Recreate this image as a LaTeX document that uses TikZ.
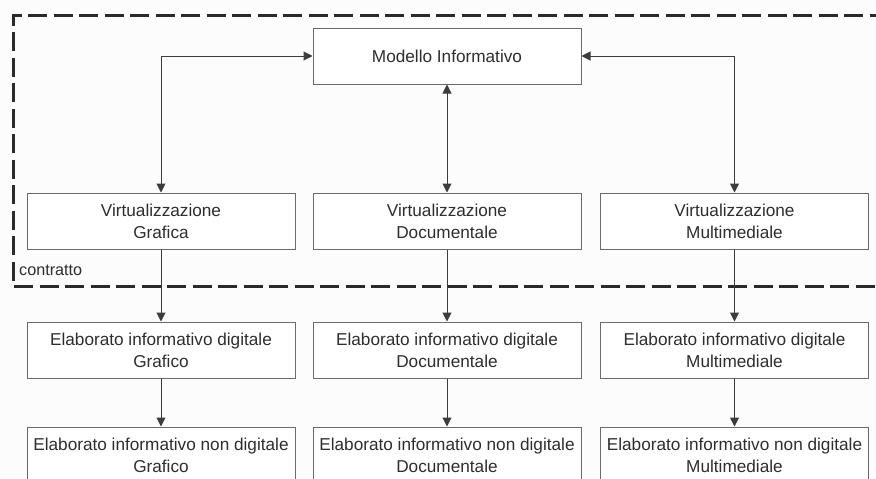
\documentclass[tikz,border=0pt]{standalone}
\usepackage{fontspec}
\setmainfont{Liberation Sans}
\usetikzlibrary{arrows.meta}
\definecolor{boxline}{HTML}{6A6A6A}
\definecolor{arrline}{HTML}{3C3C3C}
\definecolor{txt}{HTML}{2E2E2E}
\definecolor{frame}{HTML}{2A2A2A}
\tikzset{
  blockbox/.style={draw=boxline, line width=1pt, fill=white, text=txt,
    minimum width=268pt, minimum height=56pt, inner sep=0pt, align=center,
    font=\fontsize{17.2}{22}\selectfont},
  link/.style={draw=arrline, line width=1pt,
    -{Triangle[length=9pt,width=9pt]}},
  duallink/.style={draw=arrline, line width=1pt,
    {Triangle[length=9pt,width=9pt]}-{Triangle[length=9pt,width=9pt]}},
  contractframe/.style={draw=frame, line width=3pt, dash pattern=on 19pt off 6.5pt}
}
\begin{document}
\begin{tikzpicture}[x=1pt, y=-1pt]
  \useasboundingbox (0,0) rectangle (876,479);
  \fill[white!99!black] (0,0) rectangle (876,479);
  \clip (0,0) rectangle (876,479);

  % contract boundary
  \draw[contractframe] (900,286) -- (13,286) -- (13,15) -- (900,15);
  \node[anchor=west, inner sep=0pt, text=txt, font=\fontsize{16.2}{20}\selectfont]
    (contr) at (19,270) {contratto};

  % information model
  \node[blockbox] (mi) at (447,56) {Modello Informativo};

  % virtualizations
  \node[blockbox] (vg) at (161,221) {Virtualizzazione\\Grafica};
  \node[blockbox] (vd) at (447,221) {Virtualizzazione\\Documentale};
  \node[blockbox] (vm) at (734.5,221) {Virtualizzazione\\Multimediale};

  % digital deliverables
  \node[blockbox] (dg) at (161,350) {Elaborato informativo digitale\\Grafico};
  \node[blockbox] (dd) at (447,350) {Elaborato informativo digitale\\Documentale};
  \node[blockbox] (dm) at (734.5,350) {Elaborato informativo digitale\\Multimediale};

  % non-digital deliverables
  \node[blockbox] (ng) at (161,455) {Elaborato informativo non digitale\\Grafico};
  \node[blockbox] (nd) at (447,455) {Elaborato informativo non digitale\\Documentale};
  \node[blockbox] (nm) at (734.5,455) {Elaborato informativo non digitale\\Multimediale};

  % model <-> virtualizations
  \draw[duallink] (vg.north) |- (mi.west);
  \draw[duallink] (mi.south) -- (vd.north);
  \draw[duallink] (vm.north) |- (mi.east);

  % downstream flow
  \foreach \a/\b in {vg/dg, vd/dd, vm/dm, dg/ng, dd/nd, dm/nm}
    \draw[link] (\a.south) -- (\b.north);
\end{tikzpicture}
\end{document}
